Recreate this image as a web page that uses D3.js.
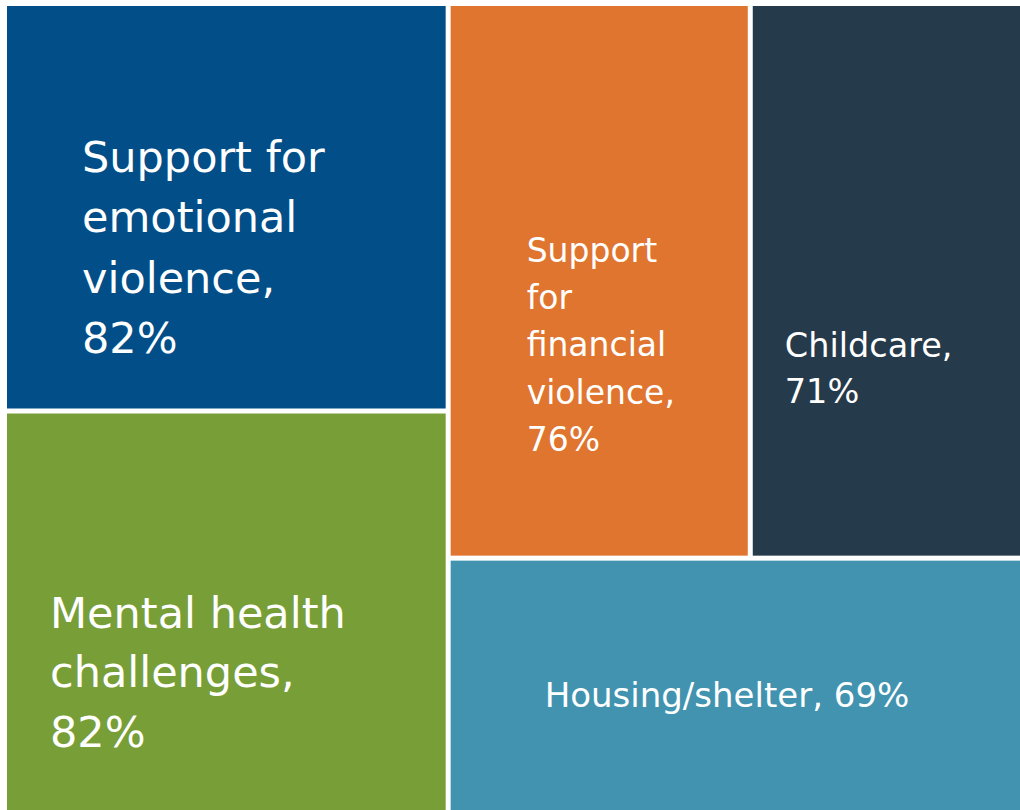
<!DOCTYPE html>
<html>
<head>
<meta charset="utf-8">
<script src="https://cdn.jsdelivr.net/npm/d3@7"></script>
<style>
  html, body { margin: 0; padding: 0; background: #ffffff; }
  svg { display: block; }
</style>
</head>
<body>
<svg id="chart" width="1020" height="810"></svg>
<script>
// Support needs reported, share of respondents (%)
const categories = [
  "Support for emotional violence",
  "Mental health challenges",
  "Support for financial violence",
  "Childcare",
  "Housing/shelter"
];
const values = [82, 82, 76, 71, 69];

// Words per label line (label text is "<category>, <value>%")
const lineBreaks = [
  [2, 1, 1, 1],
  [2, 1, 1],
  [1, 1, 1, 1, 1],
  [1, 1],
  [2]
];

// Styling
const colors = ["#014E88", "#789E38", "#E07530", "#253A4A", "#4193B0"];
const labelStyle = [
  { dx: 75, dy: 166, size: 43, lead: 60.3 },
  { dx: 43, dy: 214, size: 43, lead: 59.5 },
  { dx: 76, dy: 256, size: 33, lead: 47.2 },
  { dx: 32, dy: 351, size: 33.5, lead: 46 },
  { dx: 94, dy: 146, size: 34, lead: 47 }
];

const svg = d3.select("#chart");
const originX = 7, originY = 6;

const root = d3.hierarchy({
  children: categories.map((name, i) => ({ name, value: values[i], index: i }))
})
  .sum(d => d.value || 0);

d3.treemap()
  .tile(d3.treemapSquarify)
  .size([1023, 810])
  .paddingInner(5)
  .round(false)(root);

const g = svg.append("g").attr("transform", `translate(${originX},${originY})`);

const cell = g.selectAll("g.cell")
  .data(root.leaves())
  .join("g")
  .attr("class", "cell");

cell.append("rect")
  .attr("x", d => d.x0)
  .attr("y", d => d.y0)
  .attr("width", d => d.x1 - d.x0)
  .attr("height", d => d.y1 - d.y0)
  .attr("fill", d => colors[d.data.index]);

function labelLines(d) {
  const words = `${d.data.name}, ${d.data.value}%`.split(" ");
  const lines = [];
  let k = 0;
  lineBreaks[d.data.index].forEach(n => {
    lines.push(words.slice(k, k + n).join(" "));
    k += n;
  });
  return lines;
}

cell.append("text")
  .attr("fill", "#ffffff")
  .attr("font-family", "'DejaVu Sans', sans-serif")
  .attr("font-size", d => labelStyle[d.data.index].size)
  .each(function(d) {
    const s = labelStyle[d.data.index];
    d3.select(this).selectAll("tspan")
      .data(labelLines(d))
      .join("tspan")
      .attr("x", d.x0 + s.dx)
      .attr("y", (t, i) => d.y0 + s.dy + i * s.lead)
      .text(t => t);
  });
</script>
</body>
</html>
